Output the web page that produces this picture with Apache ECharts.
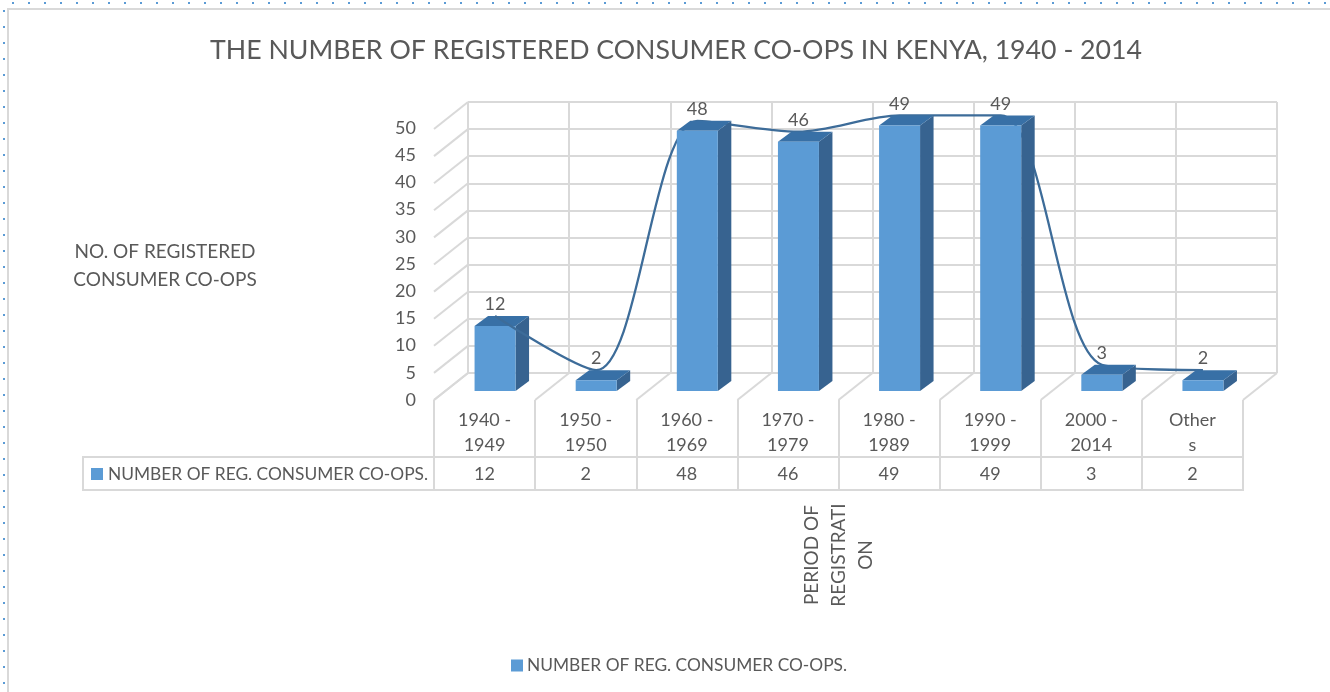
<!DOCTYPE html>
<html>
<head>
<meta charset="utf-8">
<style>html,body{margin:0;padding:0;background:#fff}#c{width:1330px;height:692px}</style>
<script src="https://cdn.jsdelivr.net/npm/echarts@6/dist/echarts.min.js"></script>
</head>
<body>
<div id="c"></div>
<script>
const categories = ['1940 -\n1949','1950 -\n1950','1960 -\n1969','1970 -\n1979','1980 -\n1989','1990 -\n1999','2000 -\n2014','Other\ns'];
const values = [12, 2, 48, 46, 49, 49, 3, 2];
const yTicks = [0,5,10,15,20,25,30,35,40,45,50];
const seriesName = 'NUMBER OF REG. CONSUMER CO-OPS.';
const titleText = 'THE NUMBER OF REGISTERED CONSUMER CO-OPS IN KENYA, 1940 - 2014';
const yName = 'NO. OF REGISTERED\nCONSUMER CO-OPS';
const xName = 'PERIOD OF\nREGISTRATI\nON';

const FONT = 'Lato';
const TXT = '#595959', GRIDC = '#d9d9d9', FRONT = '#5b9bd5', SIDE = '#376390', TOP = '#3870a6', LINE = '#3d6c99';
const DOT = '#5b9bd5';

const chart = echarts.init(document.getElementById('c'), null, {renderer:'canvas'});

const Y_MAX = 50;
function valueAxis(idx, extra){
  return Object.assign({type:'value', gridIndex:idx, min:0, max:Y_MAX, interval:5, axisLine:{show:false}, axisTick:{show:false}, axisLabel:{show:false}, splitLine:{show:false}}, extra||{});
}
function catAxis(idx, extra){
  return Object.assign({type:'category', gridIndex:idx, data:categories, axisLine:{show:false}, axisTick:{show:false}, axisLabel:{show:false}, splitLine:{show:false}}, extra||{});
}

function depthFaces(params, api){
  const i = api.value(0), v = api.value(1);
  const t = api.coord([i, v]), b = api.coord([i, 0]);
  const w = 41, dx = 13.5, dy = 10;
  const l = t[0]-w/2, r = t[0]+w/2;
  return {type:'group', children:[
    {type:'polygon', shape:{points:[[r,t[1]],[r+dx,t[1]-dy],[r+dx,b[1]-dy],[r,b[1]]]}, style:{fill:SIDE}},
    {type:'polygon', shape:{points:[[l,t[1]],[l+dx,t[1]-dy],[r+dx,t[1]-dy],[r,t[1]]]}, style:{fill:TOP}}
  ]};
}
function pairs(test){
  return values.map((v,i)=>[i,v]).filter(p=>test(p[0]));
}
const behindLine = i => i === 0;
const overLine = i => i !== 0;

const option = {
  animation:false,
  backgroundColor:'#fff',
  textStyle:{fontFamily:FONT},
  title:[
    {text:titleText, left:205, top:32, textStyle:{fontFamily:FONT, fontWeight:'normal', fontSize:26.7, color:TXT}},
    {text:yName, left:160, top:233, textAlign:'center', textStyle:{fontFamily:FONT, fontWeight:'normal', fontSize:19, color:TXT, lineHeight:28}}
  ],
  legend:{show:true, left:506, top:652, icon:'rect', itemWidth:12, itemHeight:12, itemGap:6, data:[seriesName], textStyle:{fontFamily:FONT, fontSize:17.35, color:TXT, padding:[0,0,0,-1]}},
  grid:[
    {left:468, top:102, width:809, height:271},
    {left:434, top:128, width:809, height:272},
    {left:444.5, top:120, width:809, height:271},
    {left:444.5, top:110, width:809, height:271},
    {left:434, top:457, width:809, height:33}
  ],
  xAxis:[
    catAxis(0,{splitLine:{show:true, interval:0, lineStyle:{color:GRIDC, width:2}}}),
    catAxis(1,{axisTick:{show:true, interval:0, length:90, lineStyle:{color:GRIDC, width:2}},
      axisLabel:{show:true, interval:0, fontFamily:FONT, fontSize:18, color:TXT, lineHeight:25, margin:8}}),
    catAxis(2),
    catAxis(3),
    {type:'category', gridIndex:4, data:values.map(String), axisLine:{show:false}, axisTick:{show:false}, splitLine:{show:false},
      axisLabel:{show:true, inside:true, interval:0, fontFamily:FONT, fontSize:18, color:TXT, margin:7},
      name:xName, nameLocation:'middle', nameRotate:90, nameGap:65,
      nameTextStyle:{fontFamily:FONT, fontSize:19, color:TXT, lineHeight:27, align:'center', verticalAlign:'middle'}}
  ],
  yAxis:[
    valueAxis(0,{splitLine:{show:true, lineStyle:{color:GRIDC, width:2}}}),
    valueAxis(1,{axisLabel:{show:true, fontFamily:FONT, fontSize:18, color:TXT, margin:18}}),
    valueAxis(2),
    valueAxis(3),
    {type:'value', gridIndex:4, show:false}
  ],
  series:[
    {type:'custom', name:'wall', xAxisIndex:0, yAxisIndex:0, silent:true, z:1, data:yTicks, encode:{x:-1,y:0},
      renderItem(params, api){
        const p = api.coord([0, yTicks[params.dataIndex]]);
        const x = p[0]-api.size([1,0])[0]/2;
        return {type:'line', shape:{x1:x,y1:p[1],x2:x-34,y2:p[1]+27}, style:{stroke:GRIDC, lineWidth:2, fill:null}};
      }},
    {type:'custom', name:'floor', xAxisIndex:0, yAxisIndex:0, silent:true, z:1, data:categories.concat(['']).map((c,i)=>i), encode:{x:-1,y:-1},
      renderItem(params, api){
        const k = params.dataIndex, s = api.size([1,0])[0];
        const p = api.coord([0, 0]);
        const x = p[0]-s/2+k*s;
        return {type:'line', shape:{x1:x,y1:p[1],x2:x-34,y2:p[1]+27}, style:{stroke:GRIDC, lineWidth:2, fill:null}};
      }},
    {type:'custom', name:'depth-a', xAxisIndex:2, yAxisIndex:2, silent:true, z:2, data:pairs(behindLine), encode:{x:0,y:1}, renderItem:depthFaces},
    {type:'bar', name:seriesName, xAxisIndex:2, yAxisIndex:2, z:2, barWidth:41, itemStyle:{color:FRONT},
      data:values.map((v,i)=>behindLine(i)?v:null)},
    {type:'line', name:'trend', xAxisIndex:3, yAxisIndex:3, z:3, smooth:0.3, symbol:'none',
      lineStyle:{color:LINE, width:2.3}, itemStyle:{color:LINE}, data:values},
    {type:'custom', name:'depth-b', xAxisIndex:2, yAxisIndex:2, silent:true, z:4, data:pairs(overLine), encode:{x:0,y:1}, renderItem:depthFaces},
    {type:'bar', name:seriesName, xAxisIndex:2, yAxisIndex:2, z:4, barWidth:41, barGap:'-100%', itemStyle:{color:FRONT},
      data:values.map((v,i)=>overLine(i)?v:null)},
    {type:'line', name:'labels', xAxisIndex:3, yAxisIndex:3, z:5, symbol:'circle', symbolSize:1, showSymbol:true,
      lineStyle:{width:0, color:'transparent'}, itemStyle:{color:'transparent'}, data:values,
      label:{show:true, position:'top', distance:2, fontFamily:FONT, fontSize:18, color:TXT}}
  ],
  graphic:[
    {type:'line', shape:{x1:12,y1:3,x2:1330,y2:3}, style:{stroke:DOT, lineWidth:2, lineDash:[2,14]}, silent:true},
    {type:'line', shape:{x1:4,y1:10,x2:4,y2:692}, style:{stroke:DOT, lineWidth:2, lineDash:[2,14]}, silent:true},
    {type:'line', shape:{x1:8,y1:9,x2:1330,y2:9}, style:{stroke:GRIDC, lineWidth:2}, silent:true},
    {type:'line', shape:{x1:8,y1:8,x2:8,y2:692}, style:{stroke:GRIDC, lineWidth:2}, silent:true},
    {type:'rect', shape:{x:83,y:457,width:1160,height:33}, style:{fill:null, stroke:GRIDC, lineWidth:2}, silent:true, z:0},
    {type:'rect', shape:{x:91,y:468,width:12,height:12}, style:{fill:FRONT}, silent:true},
    {type:'text', x:108, y:474, style:{text:seriesName, fontFamily:FONT, fontSize:17.35, fill:TXT, verticalAlign:'middle'}, silent:true}
  ]
};
chart.setOption(option);
</script>
</body>
</html>
